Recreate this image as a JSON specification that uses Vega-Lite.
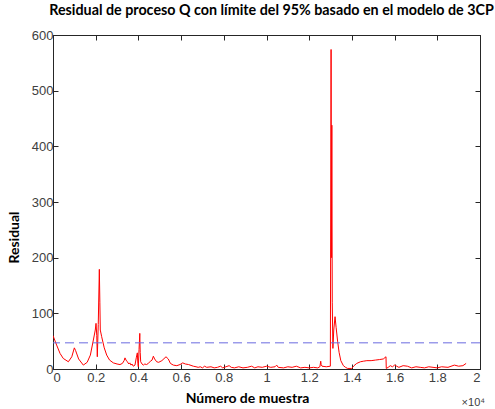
{
  "$schema": "https://vega.github.io/schema/vega-lite/v6.json",
  "autosize": "none",
  "padding": {"left": 53, "top": 35, "right": 15, "bottom": 40},
  "width": 427,
  "height": 334,
  "background": "white",
  "title": {
    "text": "Residual de proceso Q con límite del 95% basado en el modelo de 3CP",
    "font": "Lato",
    "fontSize": 14.3,
    "fontWeight": "bold",
    "color": "#000000",
    "anchor": "middle",
    "offset": 11,
    "dx": 5
  },
  "config": {
    "view": {"stroke": "#262626", "strokeWidth": 1},
    "axis": {
      "grid": false,
      "labelFont": "Liberation Sans",
      "labelFontSize": 13,
      "labelColor": "#404040",
      "domainColor": "#262626",
      "tickColor": "#262626",
      "titleFont": "Lato",
      "titleFontSize": 14,
      "titleFontWeight": "bold",
      "titleColor": "#000000"
    }
  },
  "datasets": {
    "q": [
      {"muestra": 0, "residual": 60},
      {"muestra": 80, "residual": 52},
      {"muestra": 170, "residual": 43},
      {"muestra": 330, "residual": 28},
      {"muestra": 480, "residual": 19},
      {"muestra": 720, "residual": 13},
      {"muestra": 880, "residual": 22},
      {"muestra": 1000, "residual": 38},
      {"muestra": 1060, "residual": 33},
      {"muestra": 1200, "residual": 18},
      {"muestra": 1420, "residual": 7},
      {"muestra": 1600, "residual": 12},
      {"muestra": 1750, "residual": 25},
      {"muestra": 1890, "residual": 52},
      {"muestra": 1980, "residual": 70},
      {"muestra": 2015, "residual": 82},
      {"muestra": 2050, "residual": 60},
      {"muestra": 2075, "residual": 22},
      {"muestra": 2120, "residual": 80},
      {"muestra": 2170, "residual": 179},
      {"muestra": 2195, "residual": 120},
      {"muestra": 2215, "residual": 70},
      {"muestra": 2280, "residual": 58},
      {"muestra": 2400, "residual": 38},
      {"muestra": 2515, "residual": 25},
      {"muestra": 2650, "residual": 16},
      {"muestra": 2826, "residual": 11},
      {"muestra": 3000, "residual": 9},
      {"muestra": 3138, "residual": 8},
      {"muestra": 3250, "residual": 10},
      {"muestra": 3330, "residual": 15},
      {"muestra": 3372, "residual": 20},
      {"muestra": 3420, "residual": 16},
      {"muestra": 3482, "residual": 13},
      {"muestra": 3550, "residual": 9},
      {"muestra": 3600, "residual": 11},
      {"muestra": 3650, "residual": 7},
      {"muestra": 3700, "residual": 9},
      {"muestra": 3760, "residual": 5},
      {"muestra": 3840, "residual": 7},
      {"muestra": 3900, "residual": 20},
      {"muestra": 3950, "residual": 29},
      {"muestra": 3975, "residual": 10},
      {"muestra": 3997, "residual": 4},
      {"muestra": 4030, "residual": 35},
      {"muestra": 4065, "residual": 64},
      {"muestra": 4085, "residual": 30},
      {"muestra": 4107, "residual": 13},
      {"muestra": 4170, "residual": 9},
      {"muestra": 4230, "residual": 7},
      {"muestra": 4300, "residual": 9},
      {"muestra": 4380, "residual": 8},
      {"muestra": 4466, "residual": 10},
      {"muestra": 4560, "residual": 14},
      {"muestra": 4640, "residual": 16},
      {"muestra": 4700, "residual": 23},
      {"muestra": 4760, "residual": 18},
      {"muestra": 4855, "residual": 13},
      {"muestra": 4950, "residual": 12},
      {"muestra": 5100, "residual": 15},
      {"muestra": 5293, "residual": 22},
      {"muestra": 5400, "residual": 18},
      {"muestra": 5500, "residual": 10},
      {"muestra": 5637, "residual": 7},
      {"muestra": 5800, "residual": 6},
      {"muestra": 5950, "residual": 8},
      {"muestra": 6075, "residual": 11},
      {"muestra": 6200, "residual": 9},
      {"muestra": 6350, "residual": 8},
      {"muestra": 6574, "residual": 5},
      {"muestra": 6700, "residual": 4},
      {"muestra": 6800, "residual": 3},
      {"muestra": 6900, "residual": 4},
      {"muestra": 7000, "residual": 2},
      {"muestra": 7100, "residual": 5},
      {"muestra": 7200, "residual": 3},
      {"muestra": 7400, "residual": 4},
      {"muestra": 7550, "residual": 2},
      {"muestra": 7700, "residual": 3},
      {"muestra": 7850, "residual": 5},
      {"muestra": 7950, "residual": 2},
      {"muestra": 8100, "residual": 4},
      {"muestra": 8250, "residual": 6},
      {"muestra": 8350, "residual": 3},
      {"muestra": 8500, "residual": 2},
      {"muestra": 8700, "residual": 4},
      {"muestra": 8900, "residual": 2},
      {"muestra": 9100, "residual": 3},
      {"muestra": 9300, "residual": 5},
      {"muestra": 9450, "residual": 2},
      {"muestra": 9600, "residual": 4},
      {"muestra": 9800, "residual": 3},
      {"muestra": 10000, "residual": 5},
      {"muestra": 10200, "residual": 3},
      {"muestra": 10400, "residual": 4},
      {"muestra": 10477, "residual": 7},
      {"muestra": 10550, "residual": 3},
      {"muestra": 10800, "residual": 2},
      {"muestra": 11000, "residual": 4},
      {"muestra": 11200, "residual": 3},
      {"muestra": 11400, "residual": 5},
      {"muestra": 11600, "residual": 2},
      {"muestra": 11800, "residual": 3},
      {"muestra": 12000, "residual": 2},
      {"muestra": 12200, "residual": 3},
      {"muestra": 12400, "residual": 2},
      {"muestra": 12500, "residual": 4},
      {"muestra": 12540, "residual": 14},
      {"muestra": 12560, "residual": 8},
      {"muestra": 12600, "residual": 5},
      {"muestra": 12800, "residual": 4},
      {"muestra": 12990, "residual": 5},
      {"muestra": 13010, "residual": 300},
      {"muestra": 13025, "residual": 574},
      {"muestra": 13040, "residual": 200},
      {"muestra": 13060, "residual": 438},
      {"muestra": 13080, "residual": 120},
      {"muestra": 13110, "residual": 37},
      {"muestra": 13150, "residual": 70},
      {"muestra": 13210, "residual": 94},
      {"muestra": 13260, "residual": 75},
      {"muestra": 13330, "residual": 50},
      {"muestra": 13400, "residual": 30},
      {"muestra": 13480, "residual": 15},
      {"muestra": 13600, "residual": 6},
      {"muestra": 13700, "residual": 3},
      {"muestra": 13800, "residual": 1},
      {"muestra": 13990, "residual": 1},
      {"muestra": 14100, "residual": 6},
      {"muestra": 14225, "residual": 10},
      {"muestra": 14400, "residual": 13},
      {"muestra": 14534, "residual": 14},
      {"muestra": 14700, "residual": 15},
      {"muestra": 14900, "residual": 15},
      {"muestra": 15100, "residual": 16},
      {"muestra": 15300, "residual": 17},
      {"muestra": 15470, "residual": 18},
      {"muestra": 15597, "residual": 22},
      {"muestra": 15610, "residual": 1},
      {"muestra": 15700, "residual": 3},
      {"muestra": 15800, "residual": 6},
      {"muestra": 15900, "residual": 4},
      {"muestra": 16000, "residual": 7},
      {"muestra": 16100, "residual": 5},
      {"muestra": 16200, "residual": 3},
      {"muestra": 16400, "residual": 6},
      {"muestra": 16600, "residual": 5},
      {"muestra": 16800, "residual": 2},
      {"muestra": 17000, "residual": 4},
      {"muestra": 17200, "residual": 3},
      {"muestra": 17400, "residual": 2},
      {"muestra": 17600, "residual": 4},
      {"muestra": 17800, "residual": 3},
      {"muestra": 18000, "residual": 2},
      {"muestra": 18200, "residual": 4},
      {"muestra": 18500, "residual": 3},
      {"muestra": 18800, "residual": 7},
      {"muestra": 19000, "residual": 5},
      {"muestra": 19200, "residual": 6},
      {"muestra": 19350, "residual": 10}
    ],
    "limite": [{"limite": 47}],
    "exp": [{"muestra": 20000, "residual": 0, "txt": "×10⁴"}]
  },
  "layer": [
    {
      "data": {"name": "q"},
      "mark": {"type": "line", "color": "#ff0000", "strokeWidth": 1, "clip": true},
      "encoding": {
        "x": {
          "field": "muestra", "type": "quantitative",
          "scale": {"domain": [0, 20000], "nice": false},
          "axis": {
            "title": "Número de muestra",
            "values": [0, 2000, 4000, 6000, 8000, 10000, 12000, 14000, 16000, 18000, 20000],
            "labelExpr": "datum.value / 10000",
            "tickSize": -5,
            "labelPadding": 7,
            "titleX": 194,
            "titlePadding": 7
          }
        },
        "y": {
          "field": "residual", "type": "quantitative",
          "scale": {"domain": [0, 600], "nice": false},
          "axis": {
            "title": "Residual",
            "values": [0, 100, 200, 300, 400, 500, 600],
            "tickSize": -5,
            "labelPadding": 5,
            "titleY": 202,
            "titlePadding": 10
          }
        }
      }
    },
    {
      "data": {"name": "limite"},
      "mark": {"type": "rule", "color": "#6a6ae0", "strokeWidth": 1, "strokeDash": [9, 5]},
      "encoding": {
        "y": {
          "field": "limite", "type": "quantitative",
          "axis": {"orient": "right", "labels": false, "title": null, "values": [0, 100, 200, 300, 400, 500, 600], "tickSize": -5}
        }
      }
    },
    {
      "data": {"name": "exp"},
      "mark": {"type": "text", "align": "right", "baseline": "top", "dx": 5, "dy": 28, "font": "Liberation Sans", "fontSize": 11, "color": "#404040"},
      "encoding": {
        "x": {"field": "muestra", "type": "quantitative", "axis": {"orient": "top", "labels": false, "title": null, "values": [0, 2000, 4000, 6000, 8000, 10000, 12000, 14000, 16000, 18000, 20000], "tickSize": -5}},
        "y": {"field": "residual", "type": "quantitative", "axis": null},
        "text": {"field": "txt"}
      }
    }
  ],
  "resolve": {"axis": {"x": "independent", "y": "independent"}}
}
